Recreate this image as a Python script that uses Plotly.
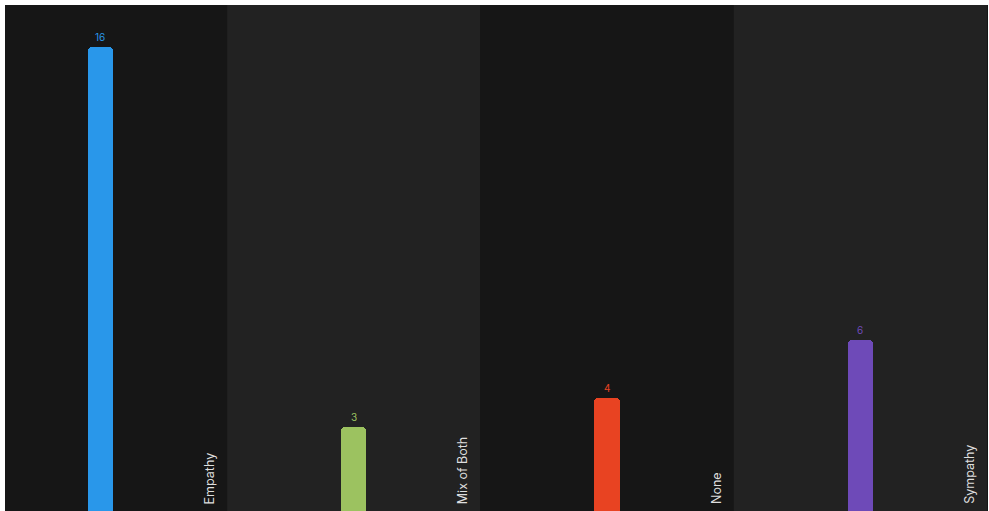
import plotly.graph_objects as go

categories = ["Empathy", "Mix of Both", "None", "Sympathy"]
values = [16, 3, 4, 6]
colors = ["#2997EA", "#9CC260", "#E84322", "#6E4AB8"]
band_colors = ["#161616", "#222222"]

fig = go.Figure()
xs = list(range(len(categories)))
fig.add_trace(go.Bar(
    x=xs, y=values, width=0.1,
    marker=dict(color=colors, cornerradius=4, line=dict(width=0)),
    hoverinfo="skip",
))

shapes = []
for i in xs:
    shapes.append(dict(type="rect", xref="x", yref="paper", x0=i - 0.5, x1=i + 0.5,
                       y0=0, y1=1, fillcolor=band_colors[i % 2], line=dict(width=0),
                       layer="below"))

annotations = []
for i, (c, v, col) in enumerate(zip(categories, values, colors)):
    annotations.append(dict(x=i, y=v, xref="x", yref="y", text=str(v), showarrow=False,
                            yanchor="bottom", yshift=2,
                            font=dict(size=10, color=col, family="Inter, Roboto, sans-serif")))
    annotations.append(dict(x=i + 0.43, y=0, xref="x", yref="paper", text=c, showarrow=False,
                            textangle=-90, xanchor="center", yanchor="bottom", yshift=9,
                            font=dict(size=12.5, color="#dedede", family="Inter, Roboto, sans-serif")))

fig.update_layout(
    width=989, height=515,
    margin=dict(l=5, r=1, t=5, b=0, pad=0),
    paper_bgcolor="white", plot_bgcolor="#161616",
    showlegend=False,
    shapes=shapes, annotations=annotations,
    xaxis=dict(range=[-0.377, 3.504], visible=False, fixedrange=True),
    yaxis=dict(range=[0, 17.45], visible=False, fixedrange=True),
    bargap=0,
)

fig.write_html("out.html", config={"displayModeBar": False})
